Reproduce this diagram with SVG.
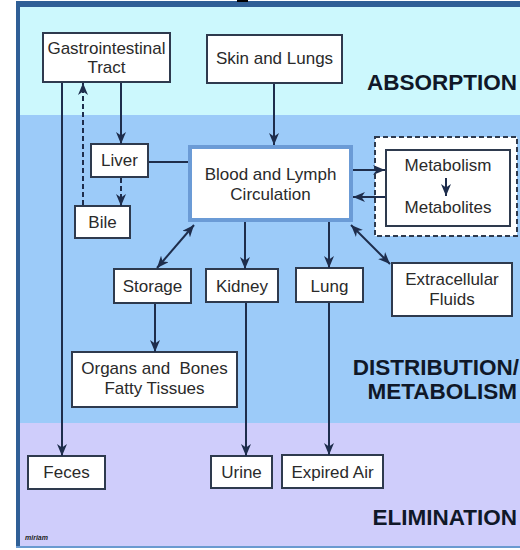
<svg xmlns="http://www.w3.org/2000/svg" width="520" height="550" viewBox="0 0 520 550">
<style>
.node{fill:#fff;stroke:#2e3a4e;stroke-width:2}
.t{font-family:"Liberation Sans",Arial,sans-serif;font-size:17px;fill:#2a2a2a;text-anchor:middle}
.zone{font-family:"Liberation Sans",Arial,sans-serif;font-size:22.5px;font-weight:bold;fill:#101828;text-anchor:end}
.c{stroke:#1e2d4c;stroke-width:2;fill:none}
.d{stroke-dasharray:5 3}
</style>
<defs>
<marker id="ah" viewBox="0 0 12 10" refX="12" refY="5" markerWidth="12" markerHeight="10" markerUnits="userSpaceOnUse" orient="auto-start-reverse">
<path d="M0,0 L12,5 L0,10 L3.5,5 z" fill="#1e2d4c"/>
</marker>
</defs>
<rect x="0" y="0" width="520" height="550" fill="#fff"/>
<rect x="20" y="6" width="500" height="109" fill="#ccf8fd"/>
<rect x="20" y="115" width="500" height="308" fill="#9ccbf9"/>
<rect x="20" y="423" width="500" height="124" fill="#cfcdfb"/>
<rect x="16" y="1" width="504" height="6" fill="#2f5f96"/>
<rect x="16" y="1" width="4" height="547" fill="#2f5f96"/>
<rect x="16" y="546" width="504" height="2" fill="#6a9ad0"/>
<rect x="237" y="0" width="11" height="2" fill="#000"/>
<text class="zone" x="517" y="90">ABSORPTION</text>
<text class="zone" x="519" y="375">DISTRIBUTION/</text>
<text class="zone" x="517" y="399">METABOLISM</text>
<text class="zone" x="517" y="525">ELIMINATION</text>
<text x="25" y="540" font-family="Liberation Sans,sans-serif" font-size="7" font-style="italic" font-weight="bold" fill="#222">miriam</text>
<g id="gi"><rect class="node" x="43" y="33" width="127" height="49"/><text class="t" x="106.5" y="54">Gastrointestinal</text><text class="t" x="106.5" y="73">Tract</text></g>
<g id="skin"><rect class="node" x="207" y="35" width="135" height="48"/><text class="t" x="274.5" y="64">Skin and Lungs</text></g>
<g id="liver"><rect class="node" x="91" y="144" width="57" height="33"/><text class="t" x="119.5" y="166">Liver</text></g>
<g id="bile"><rect class="node" x="75" y="206" width="55" height="32"/><text class="t" x="102.5" y="228">Bile</text></g>
<g id="blood"><rect x="190" y="147" width="161" height="73" fill="#fff" stroke="#6b9bd6" stroke-width="4"/><text class="t" x="270.5" y="180">Blood and Lymph</text><text class="t" x="270.5" y="200">Circulation</text></g>
<g id="metabolism"><rect x="375" y="137" width="142" height="99" fill="#fff" stroke="#2e3a4e" stroke-width="2" stroke-dasharray="5 3"/><rect class="node" x="386" y="150" width="124" height="76"/><text class="t" x="448" y="171">Metabolism</text><text class="t" x="448" y="213">Metabolites</text></g>
<g id="storage"><rect class="node" x="114" y="269" width="77" height="34"/><text class="t" x="152.5" y="292">Storage</text></g>
<g id="kidney"><rect class="node" x="206" y="269" width="72" height="33"/><text class="t" x="242" y="292">Kidney</text></g>
<g id="lung"><rect class="node" x="296" y="268" width="67" height="34"/><text class="t" x="329.5" y="292">Lung</text></g>
<g id="extracellular"><rect class="node" x="392" y="263" width="120" height="53"/><text class="t" x="452" y="285">Extracellular</text><text class="t" x="452" y="305">Fluids</text></g>
<g id="organs"><rect class="node" x="72" y="352" width="165" height="55"/><text class="t" x="154.5" y="374" xml:space="preserve">Organs and  Bones</text><text class="t" x="154.5" y="394">Fatty Tissues</text></g>
<g id="feces"><rect class="node" x="28" y="456" width="77" height="33"/><text class="t" x="66.5" y="478">Feces</text></g>
<g id="urine"><rect class="node" x="211" y="456" width="61" height="32"/><text class="t" x="241.5" y="478">Urine</text></g>
<g id="expired"><rect class="node" x="282" y="455" width="101" height="33"/><text class="t" x="332.5" y="478">Expired Air</text></g>
<g id="connectors">
<line class="c" x1="62" y1="83" x2="62" y2="456" marker-end="url(#ah)"/>
<line class="c d" x1="83" y1="205" x2="83" y2="83" marker-end="url(#ah)"/>
<line class="c" x1="121" y1="83" x2="121" y2="144" marker-end="url(#ah)"/>
<line class="c d" x1="121" y1="178" x2="121" y2="206" marker-end="url(#ah)"/>
<line class="c" x1="149" y1="162" x2="188" y2="162"/>
<line class="c" x1="274" y1="84" x2="274" y2="145" marker-end="url(#ah)"/>
<line class="c" x1="353" y1="170" x2="385" y2="170" marker-end="url(#ah)"/>
<line class="c" x1="385" y1="197" x2="353" y2="197" marker-end="url(#ah)"/>
<line class="c" x1="446" y1="178" x2="446" y2="196" marker-end="url(#ah)"/>
<line class="c" x1="194" y1="225" x2="157" y2="268" marker-start="url(#ah)" marker-end="url(#ah)"/>
<line class="c" x1="245" y1="222" x2="245" y2="269" marker-end="url(#ah)"/>
<line class="c" x1="329" y1="222" x2="329" y2="268" marker-end="url(#ah)"/>
<line class="c" x1="351" y1="225" x2="390" y2="264" marker-start="url(#ah)" marker-end="url(#ah)"/>
<line class="c" x1="155" y1="304" x2="155" y2="352" marker-end="url(#ah)"/>
<line class="c" x1="246" y1="303" x2="246" y2="456" marker-end="url(#ah)"/>
<line class="c" x1="329" y1="303" x2="329" y2="455" marker-end="url(#ah)"/>
</g>
</svg>
